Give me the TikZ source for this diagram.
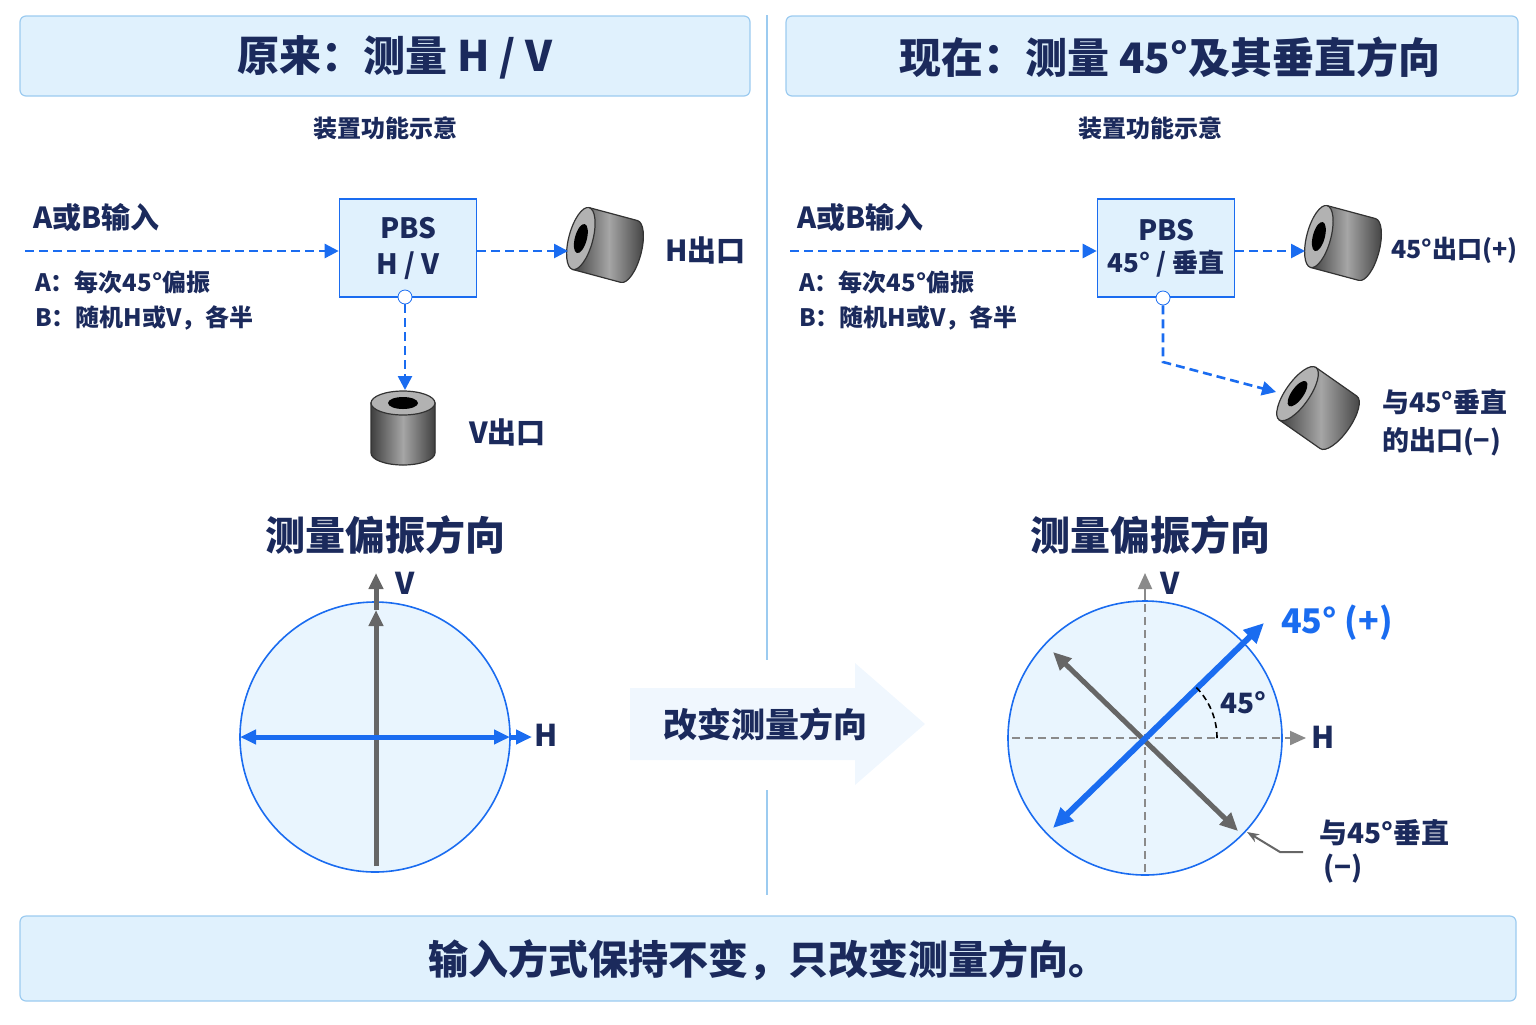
\documentclass[tikz,border=0pt]{standalone}
\usepackage{fontspec}
\setmainfont{Noto Sans CJK SC}
\usetikzlibrary{arrows.meta,positioning}
\definecolor{navy}{HTML}{1B2A5C}
\definecolor{blu}{HTML}{1A6CF0}
\definecolor{pale}{HTML}{E0F1FD}
\definecolor{edge}{HTML}{9CCBF0}
\definecolor{axgray}{HTML}{8A8A8A}
\newcommand{\cylinder}[3]{% x, y, rotation
  \begin{scope}[shift={(#1,#2)},rotate=#3]
    \fill[left color=black!75,right color=black!75,middle color=gray!70,draw=black!80,line width=0.6pt]
      (-32,-25) -- (-32,25) arc[start angle=180,end angle=0,x radius=32,y radius=12] -- (32,-25) -- cycle;
    \fill[gray!60,draw=black!80,line width=0.6pt] (0,-25) ellipse[x radius=32,y radius=12];
    \fill[black] (0,-25) ellipse[x radius=15,y radius=6];
  \end{scope}}
\begin{document}
\begin{tikzpicture}[x=0.5pt,y=-0.5pt,
  title/.style={draw=edge,fill=pale,rounded corners=3pt,line width=0.6pt},
  txt/.style={text=navy,font=\bfseries\fontsize{13}{15}\selectfont},
  big/.style={text=navy,font=\bfseries\fontsize{20}{24}\selectfont},
  pbs/.style={draw=blu,fill=pale,line width=0.8pt,minimum width=68.5pt,minimum height=49pt,align=center,text=navy,font=\bfseries\fontsize{14}{18}\selectfont},
  port/.style={circle,draw=blu,fill=white,inner sep=0pt,minimum size=7pt},
  beam/.style={blu,dash pattern=on 4.5pt off 2.5pt,line width=1.3pt,-{Triangle[length=7pt,width=7pt]}},
  disk/.style={draw=blu,fill=pale!70!white,line width=0.8pt},
  axis/.style={axgray,dash pattern=on 4pt off 2.5pt,line width=1pt},
  tip/.style={-{Triangle[length=8pt,width=7pt]}}]
\useasboundingbox (0,0) rectangle (1536,1024);
% Title bars
\draw[title] (20,16) rectangle (750,96);
\draw[title] (786,16) rectangle (1518,96);
\node[big,font=\bfseries\fontsize{21}{24}\selectfont] (titleL) at (395,57) {原来：测量 H / V};
\node[big,font=\bfseries\fontsize{21}{24}\selectfont] (titleR) at (1170,57) {现在：测量 45°及其垂直方向};
\draw[edge,line width=0.8pt] (767,15) -- (767,660) (767,790) -- (767,895);
\node[txt,font=\bfseries\fontsize{12}{14}\selectfont] (subL) at (385,128) {装置功能示意};
\node[txt,font=\bfseries\fontsize{12}{14}\selectfont] (subR) at (1150,128) {装置功能示意};

% Left device
\node[txt,anchor=west,font=\bfseries\fontsize{14.5}{16}\selectfont] (inL) at (26,218) {A或B输入};
\coordinate (srcL) at (25,251);
\node[pbs] (pbsL) at (408,248) {PBS\\H / V};
\node[port] (portL) at (405,297) {};
\draw[beam] (srcL) -- (srcL -| pbsL.west);
\cylinder{605}{245}{75}
\coordinate (hOut) at (568,251);
\draw[beam] (pbsL.east |- hOut) -- (hOut);
\node[txt,anchor=west,font=\bfseries\fontsize{14.5}{16}\selectfont] (hLab) at (658,250) {H出口};
\cylinder{403}{428}{0}
\coordinate (vOut) at (405,390);
\draw[beam] (portL) -- (vOut);
\node[txt,anchor=west,font=\bfseries\fontsize{14.5}{16}\selectfont] (vLab) at (462,432) {V出口};
\node[txt,anchor=west,font=\bfseries\fontsize{12}{14}\selectfont] (aL) at (28,282) {A：每次45°偏振};
\node[txt,anchor=west,font=\bfseries\fontsize{12}{14}\selectfont] (bL) at (28,318) {B：随机H或V，各半};

% Left polarisation
\node[big] (measL) at (385,535) {测量偏振方向};
\draw[disk] (375,737) circle[radius=135];
\coordinate (vBot) at (376,866);
\coordinate (vMid) at (376,610);
\coordinate (vTop) at (376,573);
\draw[black!60,line width=2.5pt,tip] (vBot) -- (vMid);
\draw[black!60,line width=2.5pt,tip] (vMid) -- (vTop);
\coordinate (hL) at (240,737);
\coordinate (hR) at (510,737);
\coordinate (hEnd) at (532,737);
\draw[blu,line width=2.5pt,{Triangle[length=8pt,width=7pt]}-{Triangle[length=8pt,width=7pt]}] (hL) -- (hR);
\draw[blu,line width=2.5pt,tip] (hR) -- (hEnd);
\node[txt,font=\bfseries\fontsize{15}{17}\selectfont] (vL) at (405,583) {V};
\node[txt,font=\bfseries\fontsize{15}{17}\selectfont] (hLb) at (546,735) {H};

% Middle arrow
\fill[pale!90!blu!30] (630,688) -- (855,688) -- (855,663) -- (925,724) -- (855,785) -- (855,760) -- (630,760) -- cycle;
\node[big,font=\bfseries\fontsize{17}{20}\selectfont] (chg) at (765,724) {改变测量方向};

% Right device
\node[txt,anchor=west,font=\bfseries\fontsize{14.5}{16}\selectfont] (inR) at (790,218) {A或B输入};
\coordinate (srcR) at (790,251);
\node[pbs] (pbsR) at (1166,248) {PBS\\[-2pt]{\fontsize{13}{15}\selectfont 45° / 垂直}};
\node[port] (portR) at (1163,298) {};
\draw[beam] (srcR) -- (srcR -| pbsR.west);
\cylinder{1343}{243}{75}
\coordinate (pOut) at (1305,251);
\draw[beam] (pbsR.east |- pOut) -- (pOut);
\node[txt,anchor=west,font=\bfseries\fontsize{12.5}{14}\selectfont] (pLab) at (1384,250) {45°出口(+)};
\cylinder{1318}{408}{55}
\coordinate (bend) at (1163,362);
\coordinate (mOut) at (1276,392);
\draw[beam] (portR) -- (bend) -- (mOut);
\node[txt,anchor=west,align=left,font=\bfseries\fontsize{13.5}{19}\selectfont] (mLab) at (1375,423) {与45°垂直\\的出口(−)};
\node[txt,anchor=west,font=\bfseries\fontsize{12}{14}\selectfont] (aR) at (792,282) {A：每次45°偏振};
\node[txt,anchor=west,font=\bfseries\fontsize{12}{14}\selectfont] (bR) at (792,318) {B：随机H或V，各半};

% Right polarisation
\node[big] (measR) at (1150,535) {测量偏振方向};
\coordinate (o) at (1145,738);
\draw[disk] (o) circle[radius=137];
\draw[axis] (1145,872) -- (1145,600);
\draw[axgray,line width=1pt,tip] (1145,600) -- (1145,573);
\draw[axis] (1012,738) -- (1285,738);
\draw[axgray,line width=1pt,tip] (1285,738) -- (1306,738);
\node[txt,font=\bfseries\fontsize{15}{17}\selectfont] (vR) at (1170,583) {V};
\node[txt,font=\bfseries\fontsize{15}{17}\selectfont] (hRb) at (1323,737) {H};
\coordinate (mA) at (1053,652);
\coordinate (mB) at (1238,831);
\draw[black!60,line width=2.5pt,{Triangle[length=9pt,width=8pt]}-{Triangle[length=9pt,width=8pt]}] (mA) -- (mB);
\coordinate (pA) at (1053,828);
\coordinate (pB) at (1264,623);
\draw[blu,line width=3pt,{Triangle[length=10pt,width=9pt]}-{Triangle[length=10pt,width=9pt]}] (pA) -- (pB);
\draw[black,dash pattern=on 3pt off 2pt,line width=0.8pt] (1217,738) arc[start angle=0,end angle=-45,radius=72];
\node[txt,font=\bfseries\fontsize{14}{16}\selectfont] (ang) at (1243,703) {45°};
\node[text=blu,font=\bfseries\fontsize{17}{20}\selectfont] (pTag) at (1337,623) {45° (+)};
\node[txt,anchor=west,font=\bfseries\fontsize{14}{16}\selectfont] (mTag) at (1312,833) {与45°垂直};
\node[txt,anchor=west,font=\bfseries\fontsize{14}{16}\selectfont] (mSign) at (1316,869) {(−)};
\coordinate (ptA) at (1303,852);
\coordinate (ptB) at (1280,852);
\coordinate (ptC) at (1247,832);
\draw[black!60,line width=1pt,-{Stealth[length=6pt]}] (ptA) -- (ptB) -- (ptC);

% Bottom bar
\draw[title] (20,916) rectangle (1516,1001);
\node[big] (foot) at (768,960) {输入方式保持不变，只改变测量方向。};
\end{tikzpicture}
\end{document}
